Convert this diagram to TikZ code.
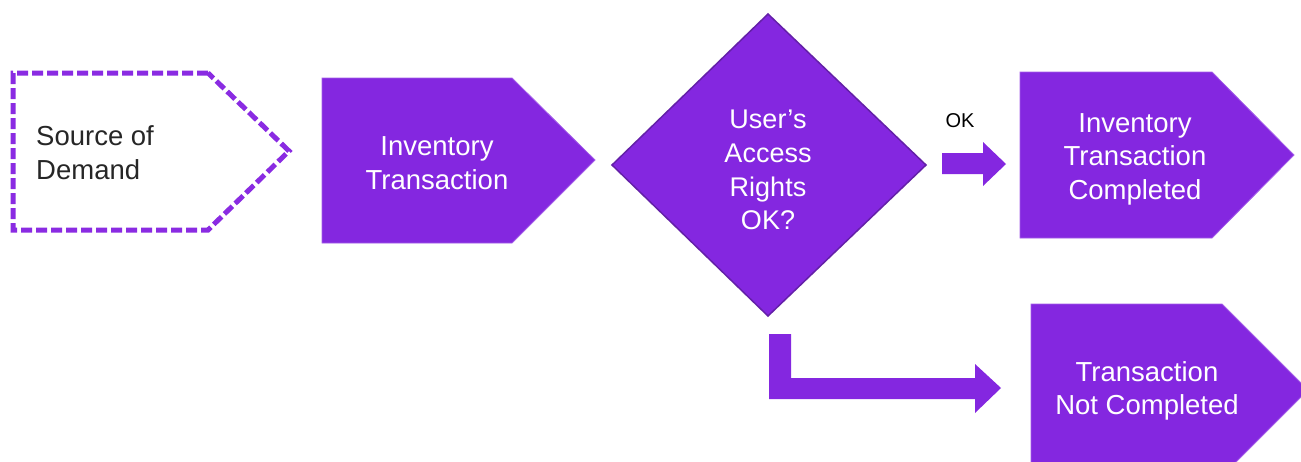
\documentclass[tikz,border=0pt]{standalone}
\usepackage{fontspec}
\setmainfont{Liberation Sans}
\definecolor{pfill}{HTML}{8427E0}
\definecolor{pdash}{HTML}{8A2BE2}
\definecolor{pedge}{HTML}{6420A8}
\tikzset{
  blk/.style={fill=pfill, draw=pfill!75!white, line width=0.8pt, line join=miter},
  arrowblk/.style={fill=pfill, draw=none},
  dashbox/.style={draw=pdash, line width=5pt, dash pattern=on 11pt off 4pt, line join=miter},
  diam/.style={fill=pfill, draw=pedge, line width=1.5pt, line join=miter},
  lbl/.style={text=white, font=\fontsize{27.5}{33.5}\selectfont, align=center, inner sep=0pt},
  dlbl/.style={text=black!85, font=\fontsize{27.5}{34}\selectfont, align=left, inner sep=0pt},
  oklbl/.style={text=black, font=\fontsize{20}{24}\selectfont, inner sep=0pt}
}
\begin{document}
\begin{tikzpicture}[x=1pt,y=-1pt]
\useasboundingbox (0,0) rectangle (1301,461);
\clip (0,0) rectangle (1301,461);

% Source of Demand (dashed pentagon)
\draw[dashbox] (208,73) -- (13,73) -- (13,230) -- (208,230) -- (289,151) -- cycle;
\node[dlbl, anchor=west] (src) at (36,153) {Source of\\Demand};

% Inventory Transaction
\draw[blk] (322,78) -- (512,78) -- (595,160) -- (512,243) -- (322,243) -- cycle;
\node[lbl] (inv) at (437,163) {Inventory\\Transaction};

% Decision diamond
\draw[diam] (768,14) -- (926,165) -- (768,316) -- (612,165) -- cycle;
\node[lbl, font=\fontsize{27}{33.7}\selectfont] (dec) at (768,170) {User’s\\Access\\Rights\\OK?};

% OK arrow
\coordinate (okS) at (942,164);
\coordinate (okT) at (1006,164);
\fill[arrowblk] (942,153) -- (983,153) -- (983,142) -- (okT) -- (983,186) -- (983,174) -- (942,174) -- cycle;
\node[oklbl] (ok) at (960,121) {OK};

% Inventory Transaction Completed
\draw[blk] (1020,72) -- (1212,72) -- (1294,155) -- (1212,238) -- (1020,238) -- cycle;
\node[lbl] (done) at (1135,159) {Inventory\\Transaction\\Completed};

% Bent arrow to Not Completed
\coordinate (nS) at (780,334);
\coordinate (nT) at (1001,388);
\fill[arrowblk] (769,334) -- (791,334) -- (791,378) -- (975,378) -- (975,364) -- (nT) -- (975,413) -- (975,399) -- (769,399) -- cycle;

% Transaction Not Completed
\draw[blk] (1031,304) -- (1222,304) -- (1308,390) -- (1222,476) -- (1031,476) -- cycle;
\node[lbl] (notdone) at (1147,391) {Transaction\\Not Completed};
\end{tikzpicture}
\end{document}
